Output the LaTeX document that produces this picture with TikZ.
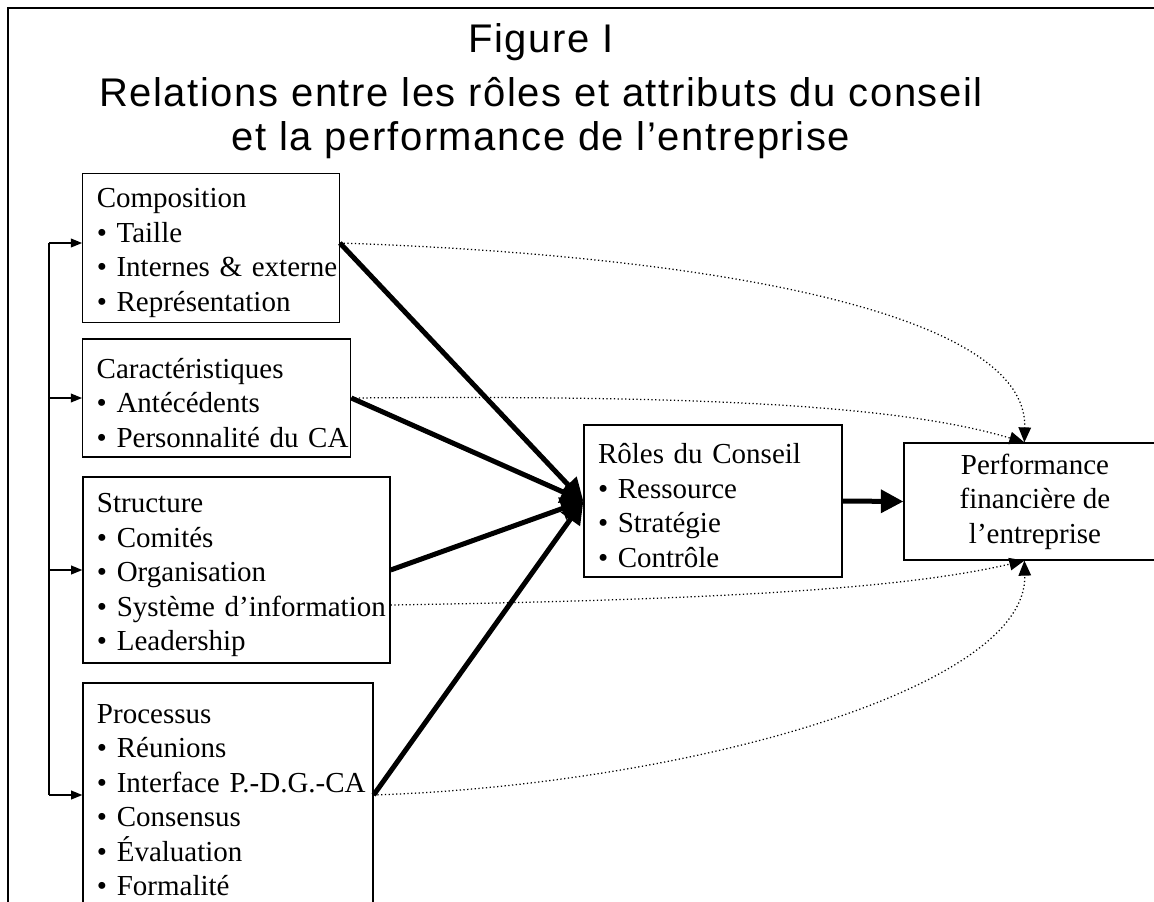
\documentclass[tikz,border=0pt]{standalone}
\usepackage{fontspec}
\setmainfont{Liberation Serif}
\newfontfamily\titrefont[LetterSpace=4.0]{Liberation Sans}
\usetikzlibrary{arrows.meta,calc}

\newcommand{\puce}[1]{\mbox{\textbullet\ #1}}

\tikzset{
  attr/.style={draw, line width=0.5pt, inner xsep=5.6pt, inner ysep=2pt, align=left,
    font=\fontsize{11.6}{13.8}\selectfont},
  liste/.style={attr, execute at begin node={\rule{0pt}{11.8pt}}},
  gros/.style={line width=2pt, -{Triangle[length=9pt,width=9pt]}},
  lien/.style={densely dotted, line width=0.5pt, -{Triangle[length=6pt,width=5pt]}},
  fleche/.style={line width=0.6pt, -{Triangle[length=4.5pt,width=3.5pt]}},
  titre/.style={font=\titrefont\fontsize{16}{19}\selectfont},
}

\begin{document}
\begin{tikzpicture}[x=0.4pt,y=-0.4pt]
  \useasboundingbox (0,0) rectangle (1154,901);
  % cadre
  \draw[line width=0.6pt] (8,920) -- (8,8) -- (1170,8);

  % titre
  \node[titre] (fig) at (541,42) {Figure I};
  \node[titre] (titreA) at (541,92) {Relations entre les rôles et attributs du conseil};
  \node[titre] (titreB) at (541,140) {et la performance de l’entreprise};

  % attributs du conseil
  \node[liste, text width=91.4pt, minimum height=56pt] (comp) at (211,248)
    {Composition\\ \puce{Taille}\\ \puce{Internes \& externe}\\ \puce{Représentation}};
  \node[liste, text width=96pt, minimum height=47.2pt] (carac) at (216.7,398)
    {Caractéristiques\\ \puce{Antécédents}\\ \puce{Personnalité du CA}};
  \node[liste, text width=111.6pt, minimum height=74.4pt] (struct) at (236.5,570)
    {Structure\\ \puce{Comités}\\ \puce{Organisation}\\ \puce{Système d’information}\\ \puce{Leadership}};
  \node[liste, text width=104.8pt, minimum height=89.6pt] (proc) at (228,795)
    {Processus\\ \puce{Réunions}\\ \puce{Interface P.-D.G.-CA}\\ \puce{Consensus}\\ \puce{Évaluation}\\ \puce{Formalité}};

  % roles et performance
  \node[liste, text width=92pt, minimum height=60.8pt] (roles) at (713,501)
    {Rôles du Conseil\\ \puce{Ressource}\\ \puce{Stratégie}\\ \puce{Contrôle}};
  \node[attr, align=center, minimum width=104.8pt, minimum height=46.8pt] (perf) at (1035,501.5)
    {Performance\\ financière de\\ l’entreprise};

  % accolade de gauche
  \coordinate (compE) at ($(comp.east)+(0,-5)$);
  \coordinate (barre) at ($(comp.west)+(-33,-5)$);
  \draw[line width=0.6pt] (barre) -- (barre |- proc.west);
  \draw[fleche] (barre) -- (barre -| comp.west);
  \draw[fleche] (barre |- carac.west) -- (carac.west);
  \draw[fleche] (barre |- struct.west) -- (struct.west);
  \draw[fleche] (barre |- proc.west) -- (proc.west);

  % liens directs (pointilles)
  \coordinate (haut) at ($(perf.north west)+(121,0)$);
  \coordinate (bas) at ($(perf.south west)+(121,0)$);
  \draw[lien] (compE) .. controls (700,255) and (1028,310) .. (haut);
  \draw[lien] (carac.east) .. controls (700,395) and (900,405) .. (haut);
  \draw[lien] ($(struct.east)+(0,35)$) .. controls (700,600) and (900,590) .. (bas);
  \draw[lien] (proc.east) .. controls (680,785) and (1028,690) .. (bas);

  % fleches vers les roles
  \draw[gros] (compE) -- (roles.west);
  \draw[gros] (carac.east) -- (roles.west);
  \draw[gros] (struct.east) -- (roles.west);
  \draw[gros] (proc.east) -- (roles.west);
  \draw[gros] (roles.east) -- (perf.west);
\end{tikzpicture}
\end{document}
